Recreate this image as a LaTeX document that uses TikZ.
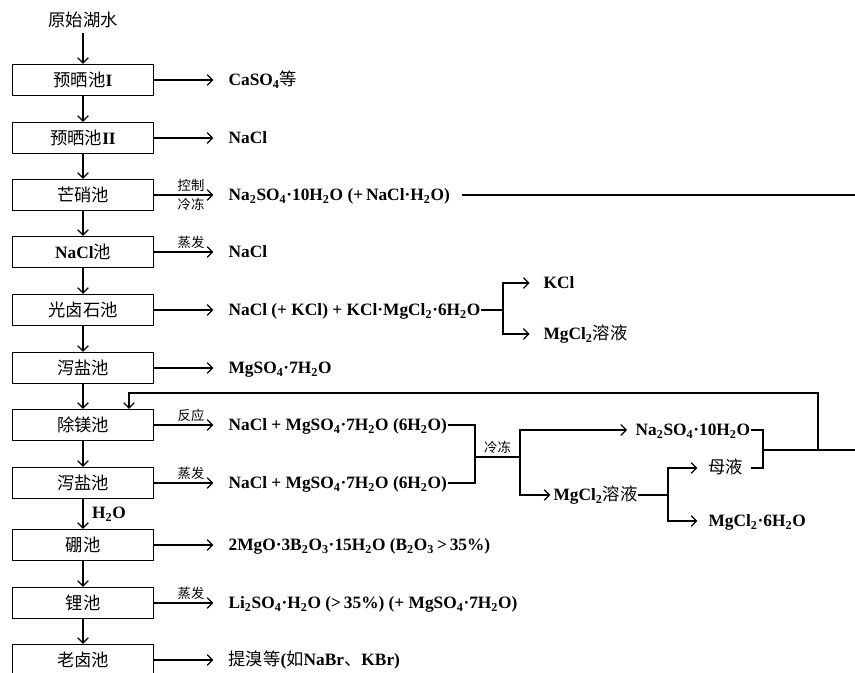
\documentclass[tikz,border=0pt]{standalone}
\usepackage{fontspec}
\setmainfont{Liberation Serif}
\newfontfamily\cjk{Noto Sans CJK SC}
\usetikzlibrary{arrows.meta}
\newcommand\zh[1]{{\cjk\mdseries #1}}
\newcommand\dn[1]{\textsubscript{#1}}
\tikzset{
  pool/.style={draw, minimum width=105.75pt, minimum height=23.25pt, inner sep=0pt,
    font=\fontsize{13}{15}\selectfont\bfseries},
  prod/.style={anchor=west, inner xsep=0pt, inner ysep=1pt, text height=8.6pt, text depth=0pt,
    font=\fontsize{13}{15}\selectfont\bfseries},
  step label/.style={font=\fontsize{10}{12}\selectfont, inner sep=2pt},
}
\begin{document}
\begin{tikzpicture}[x=0.75pt, y=-0.75pt, line width=0.9pt,
    >={Straight Barb[length=4pt,width=8pt]}]
    \useasboundingbox (0,0) rectangle (855,673);
        % Nodes
        \node (src) [font=\fontsize{13}{15}\selectfont] at (83, 20) {\zh{原始湖水}};
        \node (p1) [pool] at (83, 80) {\zh{预晒池}I};
        \node (p2) [pool] at (83, 138) {\zh{预晒池}II};
        \node (p3) [pool] at (83, 195) {\zh{芒硝池}};
        \node (p4) [pool] at (83, 252) {NaCl\zh{池}};
        \node (p5) [pool] at (83, 310) {\zh{光卤石池}};
        \node (p6) [pool] at (83, 368) {\zh{泻盐池}};
        \node (p7) [pool] at (83, 425) {\zh{除镁池}};
        \node (p8) [pool] at (83, 483) {\zh{泻盐池}};
        \node (p9) [pool] at (83, 545) {\zh{硼池}};
        \node (p10) [pool] at (83, 603) {\zh{锂池}};
        \node (p11) [pool] at (83, 660) {\zh{老卤池}};

        \node (o1) [prod] at (228, 80) {CaSO\dn{4}\zh{等}};
        \node (o2) [prod] at (228, 138) {NaCl};
        \node (o3) [prod] at (228, 195) {Na\dn{2}SO\dn{4}·10H\dn{2}O (+\,NaCl·H\dn{2}O)};
        \node (o4) [prod] at (228, 252) {NaCl};
        \node (o5) [prod] at (228, 310) {NaCl (+ KCl) + KCl·MgCl\dn{2}·6H\dn{2}O};
        \node (o6) [prod] at (228, 368) {MgSO\dn{4}·7H\dn{2}O};
        \node (o7) [prod] at (228, 425) {NaCl + MgSO\dn{4}·7H\dn{2}O (6H\dn{2}O)};
        \node (o8) [prod] at (228, 483) {NaCl + MgSO\dn{4}·7H\dn{2}O (6H\dn{2}O)};
        \node (o9) [prod] at (228, 545) {2MgO·3B\dn{2}O\dn{3}·15H\dn{2}O (B\dn{2}O\dn{3}\,>\,35\%)};
        \node (o10) [prod] at (228, 603) {Li\dn{2}SO\dn{4}·H\dn{2}O (>\,35\%) (+ MgSO\dn{4}·7H\dn{2}O)};
        \node (o11) [prod] at (228, 660) {\zh{提溴等}(\zh{如}NaBr\zh{、}KBr)};

        \node (kcl) [prod] at (543, 283) {KCl};
        \node (mgs1) [prod] at (543, 334) {MgCl\dn{2}\zh{溶液}};
        \node (na) [prod] at (635, 430) {Na\dn{2}SO\dn{4}·10H\dn{2}O};
        \node (mgs2) [prod] at (553, 495) {MgCl\dn{2}\zh{溶液}};
        \node (ml) [prod] at (708, 468) {\zh{母液}};
        \node (mgh) [prod] at (708, 521) {MgCl\dn{2}·6H\dn{2}O};

        \coordinate (e3) at (855, 195);
        \coordinate (b5) at (503, 310);
        \coordinate (j7) at (475, 457);
        \coordinate (s7) at (520, 457);
        \coordinate (k7) at (668, 495);
        \coordinate (m7) at (763, 450);
        \coordinate (r7) at (818, 450);
        \coordinate (e7) at (855, 450);
        \coordinate (t7) at (129, 393);

        % Edges
        \draw[->] (src) -- (p1);
        \foreach \a/\b in {p1/p2, p2/p3, p3/p4, p4/p5, p5/p6, p6/p7, p7/p8, p9/p10, p10/p11}
            \draw[->] (\a) -- (\b);
        \draw[->] (p8) -- node[right, xshift=3pt, font=\fontsize{13}{15}\selectfont\bfseries] {H\dn{2}O} (p9);

        \foreach \i in {1, 2, 5, 6, 9, 11}
            \draw[->, shorten >=11pt] (p\i) -- (o\i);
        \draw[->, shorten >=11pt] (p3) -- node[step label, above] {\zh{控制}} node[step label, below] {\zh{冷冻}} (o3);
        \draw[->, shorten >=11pt] (p4) -- node[step label, above] {\zh{蒸发}} (o4);
        \draw[->, shorten >=11pt] (p7) -- node[step label, above] {\zh{反应}} (o7);
        \draw[->, shorten >=11pt] (p8) -- node[step label, above] {\zh{蒸发}} (o8);
        \draw[->, shorten >=11pt] (p10) -- node[step label, above] {\zh{蒸发}} (o10);

        \draw[shorten <=9pt] (o3) -- (e3);

        \draw (o5) -- (b5);
        \draw[->, shorten >=10pt] (b5) |- (kcl);
        \draw[->, shorten >=10pt] (b5) |- (mgs1);

        \draw (o7) -| (j7) |- (o8);
        \draw (j7) -- node[step label, above] {\zh{冷冻}} (s7);
        \draw[->, shorten >=6pt] (s7) |- (na);
        \draw[->, shorten >=2pt] (s7) |- (mgs2);
        \draw (mgs2) -- (k7);
        \draw[->, shorten >=8pt] (k7) |- (ml);
        \draw[->, shorten >=8pt] (k7) |- (mgh);
        \draw[shorten >=5pt] (na) -| (m7) |- (ml);
        \draw (m7) -- (e7);
        \draw[->] (r7) |- (t7) -- (t7 |- p7.north);

\end{tikzpicture}
\end{document}
